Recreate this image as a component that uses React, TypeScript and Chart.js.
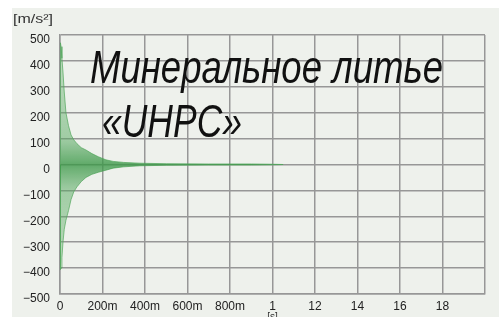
import { useEffect, useRef } from 'react';
import { Chart, registerables } from 'chart.js';

Chart.register(...registerables);

// Envelope of the damped acceleration signal (time in s, value in m/s²)
const timeS = [0, 0.002, 0.005, 0.009, 0.014, 0.02, 0.028, 0.04, 0.052, 0.065, 0.08, 0.1, 0.122, 0.15, 0.18, 0.216, 0.25, 0.3, 0.376, 0.5, 0.7, 0.9, 1.0, 1.05];
const upperEnvelope = [0, 470, 455, 410, 357, 280, 200, 150, 114, 95, 80, 65, 56, 42, 30, 18, 12, 8, 5, 3, 2, 2, 1, 0];
const lowerEnvelope = [0, -405, -400, -360, -300, -250, -215, -178, -135, -105, -86, -66, -50, -38, -30, -22, -14, -9, -5, -3, -2, -2, -1, 0];

const xTickLabels = ['0', '200m', '400m', '600m', '800m', '1', '12', '14', '16', '18', ''];
const yUnit = '[m/s²]';
const xUnit = '[s]';
const titleLines = ['Минеральное литье', '«UHPC»'];

const FONT = '"Liberation Sans", Arial, sans-serif';
const GRID = '#979797';

export default function App() {
  const ref = useRef<HTMLCanvasElement>(null);

  useEffect(() => {
    const canvas = ref.current;
    if (!canvas) return;

    const overlay = {
      id: 'overlay',
      afterDraw(chart: any) {
        const ctx = chart.ctx as CanvasRenderingContext2D;
        const fit = (text: string, font: string, x: number, baseline: number, width: number, align: 'left' | 'center' = 'left') => {
          ctx.save();
          ctx.font = font;
          ctx.textAlign = 'left';
          ctx.textBaseline = 'alphabetic';
          const w = ctx.measureText(text).width;
          const sx = width > 0 ? width / w : 1;
          const realW = w * sx;
          ctx.translate(align === 'center' ? x - realW / 2 : x, baseline);
          ctx.scale(sx, 1);
          ctx.fillText(text, 0, 0);
          ctx.restore();
        };
        ctx.save();
        ctx.fillStyle = '#111';
        fit(titleLines[0], `italic 47px ${FONT}`, 90, 83, 353);
        fit(titleLines[1], `italic 47px ${FONT}`, 102, 137, 140);
        ctx.fillStyle = '#333';
        fit(yUnit, `12px ${FONT}`, 13, 23, 40);
        const xs = chart.scales.x.getPixelForValue(1);
        fit(xUnit, `10px ${FONT}`, xs, 320, 0, 'center');
        ctx.restore();
      },
    };

    const chart = new Chart(canvas, {
      type: 'line',
      data: {
        datasets: [
          {
            data: timeS.map((t, i) => ({ x: t, y: upperEnvelope[i] })),
            borderColor: 'rgba(80,165,90,0.7)',
            borderWidth: 1,
            pointRadius: 0,
            tension: 0,
            fill: '+1',
            backgroundColor: (c: any) => {
              const area = c.chart.chartArea;
              if (!area) return 'rgba(80,165,90,0.5)';
              const g = c.chart.ctx.createLinearGradient(0, area.top, 0, area.bottom);
              g.addColorStop(0, 'rgba(110,185,115,0.35)');
              g.addColorStop(0.4, 'rgba(85,168,95,0.5)');
              g.addColorStop(0.5, 'rgba(60,152,72,0.8)');
              g.addColorStop(0.6, 'rgba(85,168,95,0.5)');
              g.addColorStop(1, 'rgba(110,185,115,0.35)');
              return g;
            },
          },
          {
            data: timeS.map((t, i) => ({ x: t, y: lowerEnvelope[i] })),
            borderColor: 'rgba(80,165,90,0.7)',
            borderWidth: 1,
            pointRadius: 0,
            tension: 0,
            fill: false,
          },
        ],
      },
      options: {
        responsive: false,
        animation: false,
        devicePixelRatio: 1,
        layout: { padding: { top: 35, right: 14, left: 0, bottom: 0 } },
        plugins: { legend: { display: false }, tooltip: { enabled: false }, title: { display: false } },
        scales: {
          x: {
            type: 'linear',
            min: 0,
            max: 2,
            ticks: {
              stepSize: 0.2,
              autoSkip: false,
              maxRotation: 0,
              padding: 5,
              color: '#222',
              font: { family: FONT, size: 12 },
              callback: (v: any) => xTickLabels[Math.round(Number(v) / 0.2)] ?? '',
            },
            grid: { color: GRID, lineWidth: 1.5, drawTicks: false },
            border: { color: GRID, width: 1.5 },
            afterFit: (s: any) => { s.height = 23; },
          },
          y: {
            min: -500,
            max: 500,
            ticks: {
              stepSize: 100,
              padding: 10,
              labelOffset: 5,
              color: '#222',
              font: { family: FONT, size: 12 },
              callback: (v: any) => String(v).replace('-', '−'),
            },
            grid: { color: GRID, lineWidth: 1.5, drawTicks: false },
            border: { color: GRID, width: 1.5 },
            afterFit: (s: any) => { s.width = 60; },
          },
        },
      },
      plugins: [overlay],
    });

    return () => chart.destroy();
  }, []);

  return (
    <div style={{ position: 'fixed', left: 0, top: 0, width: 499, height: 317, background: '#ffffff', overflow: 'hidden' }}>
      <div style={{ position: 'absolute', left: 12, top: 8, right: 0, bottom: 0, background: '#eef1ec' }} />
      <canvas ref={ref} width={499} height={317} style={{ position: 'absolute', left: 0, top: 0, width: 499, height: 317 }} />
    </div>
  );
}
